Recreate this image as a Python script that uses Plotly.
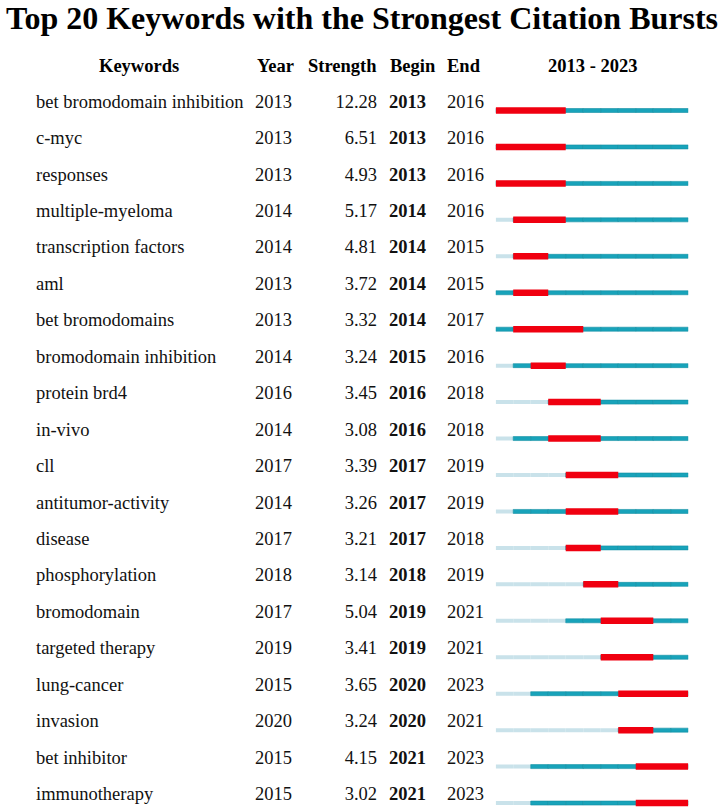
import plotly.graph_objects as go

keywords = ["bet bromodomain inhibition", "c-myc", "responses", "multiple-myeloma",
            "transcription factors", "aml", "bet bromodomains", "bromodomain inhibition",
            "protein brd4", "in-vivo", "cll", "antitumor-activity", "disease",
            "phosphorylation", "bromodomain", "targeted therapy", "lung-cancer",
            "invasion", "bet inhibitor", "immunotherapy"]
years = [2013, 2013, 2013, 2014, 2014, 2013, 2013, 2014, 2016, 2014,
         2017, 2014, 2017, 2018, 2017, 2019, 2015, 2020, 2015, 2015]
strengths = [12.28, 6.51, 4.93, 5.17, 4.81, 3.72, 3.32, 3.24, 3.45, 3.08,
             3.39, 3.26, 3.21, 3.14, 5.04, 3.41, 3.65, 3.24, 4.15, 3.02]
begins = [2013, 2013, 2013, 2014, 2014, 2014, 2014, 2015, 2016, 2016,
          2017, 2017, 2017, 2018, 2019, 2019, 2020, 2020, 2021, 2021]
ends = [2016, 2016, 2016, 2016, 2015, 2015, 2017, 2016, 2018, 2018,
        2019, 2019, 2018, 2019, 2021, 2021, 2023, 2021, 2023, 2023]
start_year, end_year = 2013, 2023
title_text = "Top 20 Keywords with the Strongest Citation Bursts"
headers = ["Keywords", "Year", "Strength", "Begin", "End", f"{start_year} - {end_year}"]

W, H = 724, 807
ROW0, ROWH = 103.0, 36.45
SERIF = "Liberation Serif, Times New Roman, serif"
FS = 18.5
LIGHT, TEAL, RED = "#c9e2ea", "#18a3ba", "#f00010"

rows = list(range(len(keywords)))
fig = go.Figure()

# timeline cells
lx, lb, ly, tx, tb, ty = [], [], [], [], [], []
for r, y0 in zip(rows, years):
    for yr in range(start_year, end_year + 1):
        if yr < y0:
            lx.append(1); lb.append(yr); ly.append(r)
        else:
            tx.append(1); tb.append(yr); ty.append(r)

thin = 4.0 / ROWH
thick = 6.5 / ROWH
center = 7.5 / ROWH

fig.add_trace(go.Bar(orientation="h", x=lx, base=lb, y=ly, width=thin, offset=center - thin / 2,
                     marker=dict(color=LIGHT, line=dict(width=0)), xaxis="x2", yaxis="y",
                     hoverinfo="skip", showlegend=False))
fig.add_trace(go.Bar(orientation="h", x=tx, base=tb, y=ty, width=thin, offset=center - thin / 2,
                     marker=dict(color=TEAL, line=dict(width=0.6, color="#128ea3")), xaxis="x2", yaxis="y",
                     hoverinfo="skip", showlegend=False))
fig.add_trace(go.Bar(orientation="h", x=[e + 1 - b for b, e in zip(begins, ends)], base=begins, y=rows,
                     width=thick, offset=center - thick / 2,
                     marker=dict(color=RED, line=dict(width=0)), xaxis="x2", yaxis="y",
                     hoverinfo="skip", showlegend=False))

def col(xpos, texts, pos, bold=False):
    fig.add_trace(go.Scatter(x=[xpos] * len(texts), y=rows, mode="text", text=texts,
                             textposition=pos,
                             textfont=dict(family=SERIF, size=FS, color="#111111",
                                           weight="bold" if bold else "normal"),
                             xaxis="x", yaxis="y", hoverinfo="skip", showlegend=False))

col(36, keywords, "middle right")
col(255, [str(v) for v in years], "middle right")
col(377, [f"{v:.2f}" for v in strengths], "middle left")
col(389, [str(v) for v in begins], "middle right", bold=True)
col(447, [str(v) for v in ends], "middle right")

annotations = [dict(text=f"<b>{title_text}</b>", x=362 / W, y=1 - 18.5 / H, xref="paper", yref="paper",
                    xanchor="center", yanchor="middle", showarrow=False, borderpad=0,
                    font=dict(family=SERIF, size=32, color="#000000"))]
hx = [139, 275, 342, 412.5, 464.5, 592]
for t, x in zip(headers, hx):
    annotations.append(dict(text=f"<b>{t}</b>", x=x / W, y=1 - 66.5 / H, xref="paper", yref="paper",
                            xanchor="center", yanchor="middle", showarrow=False,
                            font=dict(family=SERIF, size=FS, color="#000000")))

fig.update_layout(
    width=W, height=H, autosize=False,
    margin=dict(l=0, r=0, t=0, b=0),
    paper_bgcolor="white", plot_bgcolor="white",
    barmode="overlay",
    xaxis=dict(domain=[0, 1], range=[0, W], visible=False, fixedrange=True),
    xaxis2=dict(domain=[495.7 / W, 688.3 / W], range=[start_year, end_year + 1], anchor="y",
                visible=False, fixedrange=True),
    yaxis=dict(range=[(H - ROW0) / ROWH, -ROW0 / ROWH], visible=False, fixedrange=True),
    annotations=annotations,
)

fig.write_html("out.html", config={"displayModeBar": False},
               post_script="document.body.style.margin='0';document.body.style.padding='0';"
                           "document.body.style.overflow='hidden';")
